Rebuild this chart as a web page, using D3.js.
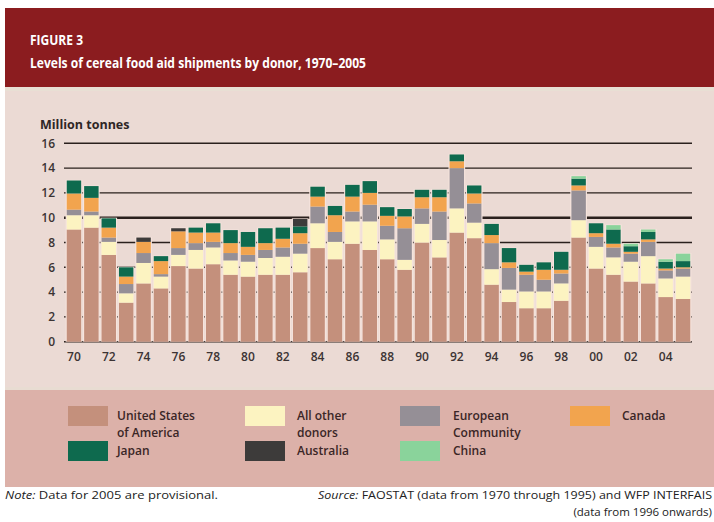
<!DOCTYPE html>
<html>
<head>
<meta charset="utf-8">
<script src="https://cdn.jsdelivr.net/npm/d3@7"></script>
<style>
  html, body { margin: 0; padding: 0; background: #ffffff; }
  svg { display: block; }
  text { font-family: "Open Sans", "Noto Sans", sans-serif; }
</style>
</head>
<body>
<svg id="chart" width="714" height="522"></svg>
<script>
// ---------- data (million tonnes) ----------
const years = [1970,1971,1972,1973,1974,1975,1976,1977,1978,1979,1980,1981,1982,1983,1984,1985,1986,1987,1988,1989,1990,1991,1992,1993,1994,1995,1996,1997,1998,1999,2000,2001,2002,2003,2004,2005];
const usa       = [9.05,9.2,7.0,3.15,4.7,4.3,6.1,5.9,6.25,5.4,5.25,5.4,5.4,5.6,7.55,6.65,7.9,7.4,6.65,5.8,8.0,6.8,8.8,8.35,4.6,3.2,2.7,2.7,3.3,8.4,5.9,5.4,4.85,4.7,3.6,3.45];
const allOther  = [1.15,1.0,1.05,0.75,1.65,0.95,0.9,1.5,1.35,1.15,1.2,1.35,1.45,1.5,2.0,1.4,1.8,2.3,1.6,0.8,1.5,1.4,1.95,1.25,1.25,1.0,1.35,1.35,1.4,1.4,1.75,1.4,1.6,2.2,1.5,1.8];
const eu        = [0.45,0.3,0.35,0.75,0.8,0.2,0.55,0.55,0.45,0.6,0.55,0.65,0.75,0.8,1.35,0.8,0.8,1.35,1.1,2.55,1.25,2.3,3.25,1.55,2.1,1.75,1.35,0.95,0.8,2.4,0.8,0.8,0.65,1.15,0.65,0.65];
const canada    = [1.3,1.1,0.8,0.6,0.9,1.05,1.35,0.85,0.75,0.8,0.65,0.55,0.7,0.85,0.8,1.35,1.2,0.95,0.8,0.95,0.9,1.15,0.55,0.8,0.65,0.45,0.25,0.8,0.3,0.4,0.3,0.3,0.15,0.2,0.15,0.1];
const japan     = [1.05,0.95,0.75,0.75,0,0.4,0,0.4,0.75,1.05,1.2,1.2,0.9,0.55,0.8,0.75,0.95,0.95,0.7,0.6,0.6,0.6,0.55,0.65,0.9,1.15,0.55,0.6,1.45,0.55,0.8,1.15,0.45,0.6,0.55,0.5];
const australia = [0,0,0,0,0.35,0,0.25,0,0,0,0,0,0,0.6,0,0,0,0,0,0,0,0,0,0,0,0,0,0,0,0,0,0,0,0,0,0];
const china     = [0,0,0,0,0,0,0,0,0,0,0,0,0,0,0,0,0,0,0,0,0,0,0,0,0,0,0,0,0,0.2,0,0.35,0.2,0.2,0.2,0.6];

const seriesKeys   = ["usa","allOther","eu","canada","japan","australia","china"];
const seriesLabels = [["United States","of America"],["All other","donors"],["European","Community"],["Canada"],["Japan"],["Australia"],["China"]];
const seriesColors = ["#c4907c","#fcf3c1","#958f96","#f2a44e","#0e6a4e","#3d3b3a","#8ad39b"];
const yTicks = [0,2,4,6,8,10,12,14,16];
const xTickYears = years.filter(y => y % 2 === 0 && y <= 2004);

const title1 = "FIGURE 3";
const title2 = "Levels of cereal food aid shipments by donor, 1970\u20132005";
const yLabel = "Million tonnes";

// ---------- build table ----------
const seriesData = {usa, allOther, eu, canada, japan, australia, china};
const table = years.map((yr, i) => {
  const row = {year: yr};
  seriesKeys.forEach(k => row[k] = seriesData[k][i]);
  return row;
});

const svg = d3.select("#chart");

// ---------- panels ----------
svg.append("rect").attr("x",5).attr("y",8).attr("width",720).attr("height",80).attr("fill","#8b1c1f");
svg.append("rect").attr("x",5).attr("y",87).attr("width",720).attr("height",4).attr("fill","#e8dfd4");
svg.append("rect").attr("x",5).attr("y",91).attr("width",720).attr("height",296).attr("fill","#ebdad4");
svg.append("rect").attr("x",5).attr("y",387).attr("width",720).attr("height",3).attr("fill","#e8dcd2");
svg.append("rect").attr("x",5).attr("y",390).attr("width",720).attr("height",97).attr("fill","#dcb1a9");

// ---------- titles ----------
svg.append("text").attr("x",30).attr("y",45).attr("fill","#fff")
  .attr("font-size",14).attr("font-weight",700).attr("textLength",53).attr("lengthAdjust","spacingAndGlyphs").text(title1);
svg.append("text").attr("x",30).attr("y",68).attr("fill","#fff")
  .attr("font-size",15).attr("font-weight",700).attr("textLength",336).attr("lengthAdjust","spacingAndGlyphs").text(title2);

// ---------- scales ----------
const x = d3.scaleBand().domain(years).range([65, 692]).paddingInner(0.17).paddingOuter(0.1);
const y = d3.scaleLinear().domain([0,16]).range([341.7, 143.3]);

// gridlines
svg.append("g").selectAll("line").data(yTicks.filter(t => t > 0)).join("line")
  .attr("x1",64).attr("x2",692)
  .attr("y1", d => y(d)).attr("y2", d => y(d))
  .attr("stroke","#2a201d")
  .attr("stroke-width", d => d === 10 ? 2.6 : 1.4);
svg.append("line").attr("x1",64).attr("x2",692).attr("y1",y(0)).attr("y2",y(0))
  .attr("stroke","#2a201d").attr("stroke-width",1.6);

// stacked bars
const stack = d3.stack().keys(seriesKeys);
const layers = stack(table);
const totals = table.map(r => d3.sum(seriesKeys, k => r[k]));

// light halos behind bars
svg.append("g").selectAll("rect").data(table).join("rect")
  .attr("x", d => x(d.year) - 1.1)
  .attr("width", x.bandwidth() + 2.2)
  .attr("y", (d,i) => y(totals[i]) - 0.6)
  .attr("height", (d,i) => y(0) - y(totals[i]) + 0.6)
  .attr("fill","#f6e4dd");

svg.append("g").selectAll("g").data(layers).join("g")
  .attr("fill", (d,i) => seriesColors[i])
  .selectAll("rect").data(d => d).join("rect")
  .attr("x", d => x(d.data.year))
  .attr("width", x.bandwidth())
  .attr("y", d => y(d[1]))
  .attr("height", d => Math.max(0, y(d[0]) - y(d[1])));

// axes
const yAxis = svg.append("g").attr("transform","translate(56,0)")
  .call(d3.axisLeft(y).tickValues(yTicks).tickSize(0).tickPadding(1));
yAxis.select(".domain").remove();
yAxis.selectAll("text").attr("font-size",12).attr("font-weight",600).attr("fill","#3b3333")
  .attr("font-family","'Open Sans', sans-serif");

const xAxis = svg.append("g").attr("transform",`translate(0,${y(0)})`)
  .call(d3.axisBottom(x).tickValues(xTickYears).tickSize(0).tickPadding(11)
    .tickFormat(d => String(d).slice(2)));
xAxis.select(".domain").remove();
xAxis.selectAll("text").attr("font-size",12).attr("font-weight",600).attr("fill","#3b3333")
  .attr("font-family","'Open Sans', sans-serif");

svg.append("text").attr("x",40).attr("y",129).attr("font-size",12.5).attr("font-weight",700)
  .attr("fill","#2e2626").text(yLabel);

// ---------- legend ----------
const legendPos = [
  {sx:68, sy:406, tx:117},   // USA
  {sx:245, sy:406, tx:297},  // all other
  {sx:400, sy:406, tx:453},  // EU
  {sx:570, sy:406, tx:622},  // Canada
  {sx:68, sy:441, tx:117},   // Japan
  {sx:245, sy:441, tx:297},  // Australia
  {sx:400, sy:441, tx:453}   // China
];
const lg = svg.append("g");
seriesKeys.forEach((k,i) => {
  const p = legendPos[i];
  lg.append("rect").attr("x",p.sx).attr("y",p.sy).attr("width",40).attr("height",20).attr("fill",seriesColors[i]);
  seriesLabels[i].forEach((line,j) => {
    lg.append("text").attr("x",p.tx).attr("y",p.sy + 14 + j*16.5).attr("font-size",12)
      .attr("font-weight",600).attr("fill","#3a2626").text(line);
  });
});

// ---------- footnotes ----------
const note = svg.append("text").attr("x",5).attr("y",499).attr("font-size",11.5).attr("fill","#222")
  .attr("textLength",213).attr("lengthAdjust","spacingAndGlyphs");
note.append("tspan").attr("font-style","italic").text("Note:");
note.append("tspan").text(" Data for 2005 are provisional.");
const src = svg.append("text").attr("x",318).attr("y",499).attr("font-size",11.5).attr("fill","#222")
  .attr("textLength",394).attr("lengthAdjust","spacingAndGlyphs");
src.append("tspan").attr("font-style","italic").text("Source:");
src.append("tspan").text(" FAOSTAT (data from 1970 through 1995) and WFP INTERFAIS");
svg.append("text").attr("x",712).attr("y",515.5).attr("text-anchor","end").attr("font-size",11.5).attr("fill","#222")
  .text("(data from 1996 onwards)");
</script>
</body>
</html>
